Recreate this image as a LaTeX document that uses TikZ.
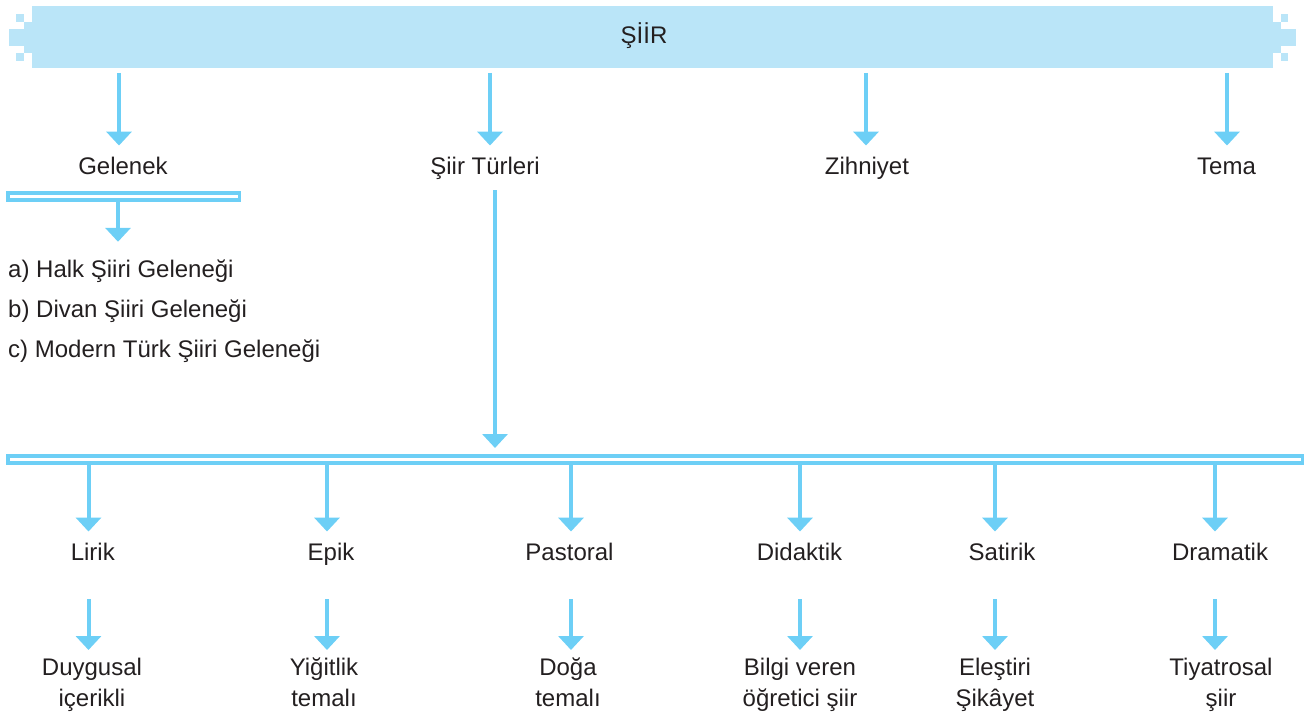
\documentclass[tikz,border=0pt]{standalone}
\usepackage{fontspec}
\setmainfont{Liberation Sans}
\usetikzlibrary{arrows.meta}

\definecolor{bannerblue}{HTML}{BAE5F8}
\definecolor{arrowblue}{HTML}{6DCFF6}
\definecolor{textgray}{HTML}{231F20}

\tikzset{
  arr/.style={line width=4pt, draw=arrowblue, -{Triangle[width=25pt,length=14pt]}},
  bar/.style={draw=arrowblue, line width=3.5pt, inner sep=0pt, minimum height=7pt},
  lbl/.style={text=textgray, font=\fontsize{24}{29}\selectfont, inner xsep=0pt, inner ysep=11pt, text height=17.5pt, text depth=5pt},
  sub/.style={text=textgray, font=\fontsize{24}{30}\selectfont, align=center, anchor=north, inner xsep=0pt, inner ysep=8pt},
  item/.style={text=textgray, font=\fontsize{24}{29}\selectfont, anchor=base west, inner xsep=0pt, inner ysep=17pt, text height=18pt, text depth=5pt}
}

\begin{document}
\begin{tikzpicture}[x=1pt, y=-1pt]
\useasboundingbox (0,0) rectangle (1307,717);

% banner
\fill[bannerblue] (32,6) rectangle (1273,68);
\fill[bannerblue] (24,22) rectangle (32,53);
\fill[bannerblue] (9,29) rectangle (24,46);
\fill[bannerblue] (16,14) rectangle (24,22);
\fill[bannerblue] (16,53) rectangle (24,61);
\fill[bannerblue] (1273,22) rectangle (1281,53);
\fill[bannerblue] (1281,29) rectangle (1296,46);
\fill[bannerblue] (1281,14) rectangle (1288,22);
\fill[bannerblue] (1281,53) rectangle (1288,61);
\node[lbl] (sir) at (644,37) {ŞİİR};

% first level
\node[lbl] (gelenek) at (123,168) {Gelenek};
\node[lbl] (turler) at (485,168) {Şiir Türleri};
\node[lbl] (zihniyet) at (867,168) {Zihniyet};
\node[lbl] (tema) at (1226.5,168) {Tema};

\coordinate (s1) at (119,73);
\coordinate (s2) at (490,73);
\coordinate (s3) at (866,73);
\coordinate (s4) at (1227,73);
\draw[arr] (s1) -- (s1 |- gelenek.north);
\draw[arr] (s2) -- (s2 |- turler.north);
\draw[arr] (s3) -- (s3 |- zihniyet.north);
\draw[arr] (s4) -- (s4 |- tema.north);

% gelenek
\node[bar, minimum width=231.5pt] (gbar) at (123.5,196.5) {};
\node[item] (halk) at (8,277) {a) Halk Şiiri Geleneği};
\node[item] (divan) at (8,317) {b) Divan Şiiri Geleneği};
\node[item] (modern) at (8,357) {c) Modern Türk Şiiri Geleneği};
\coordinate (g1) at (118,0);
\draw[arr] (gbar.south -| g1) -- (g1 |- halk.north);

% siir turleri
\node[bar, minimum width=1294.5pt] (tbar) at (655,459.25) {};
\coordinate (t0) at (495,0);
\draw[arr, shorten >=6pt] (turler.south -| t0) -- (t0 |- tbar.north);

\node[lbl] (lirik) at (92.8,554) {Lirik};
\node[lbl] (epik) at (331,554) {Epik};
\node[lbl] (pastoral) at (569.5,554) {Pastoral};
\node[lbl] (didaktik) at (799.5,554) {Didaktik};
\node[lbl] (satirik) at (1002,554) {Satirik};
\node[lbl] (dramatik) at (1220,554) {Dramatik};

\coordinate (b1) at (88.5,0);
\coordinate (b2) at (327,0);
\coordinate (b3) at (571,0);
\coordinate (b4) at (800,0);
\coordinate (b5) at (995,0);
\coordinate (b6) at (1215,0);
\draw[arr] (tbar.south -| b1) -- (b1 |- lirik.north);
\draw[arr] (tbar.south -| b2) -- (b2 |- epik.north);
\draw[arr] (tbar.south -| b3) -- (b3 |- pastoral.north);
\draw[arr] (tbar.south -| b4) -- (b4 |- didaktik.north);
\draw[arr] (tbar.south -| b5) -- (b5 |- satirik.north);
\draw[arr] (tbar.south -| b6) -- (b6 |- dramatik.north);

% descriptions
\node[sub] (duygusal) at (92,650) {Duygusal\\[1pt]içerikli};
\node[sub] (yigitlik) at (324,650) {Yiğitlik\\[1pt]temalı};
\node[sub] (doga) at (568,650) {Doğa\\[1pt]temalı};
\node[sub] (bilgi) at (800,650) {Bilgi veren\\[1pt]öğretici şiir};
\node[sub] (elestiri) at (995,650) {Eleştiri\\[1pt]Şikâyet};
\node[sub] (tiyatro) at (1221,650) {Tiyatrosal\\[1pt]şiir};

\draw[arr, shorten <=23pt] (lirik.south -| b1) -- (b1 |- duygusal.north);
\draw[arr, shorten <=23pt] (epik.south -| b2) -- (b2 |- yigitlik.north);
\draw[arr, shorten <=23pt] (pastoral.south -| b3) -- (b3 |- doga.north);
\draw[arr, shorten <=23pt] (didaktik.south -| b4) -- (b4 |- bilgi.north);
\draw[arr, shorten <=23pt] (satirik.south -| b5) -- (b5 |- elestiri.north);
\draw[arr, shorten <=23pt] (dramatik.south -| b6) -- (b6 |- tiyatro.north);

\end{tikzpicture}
\end{document}
